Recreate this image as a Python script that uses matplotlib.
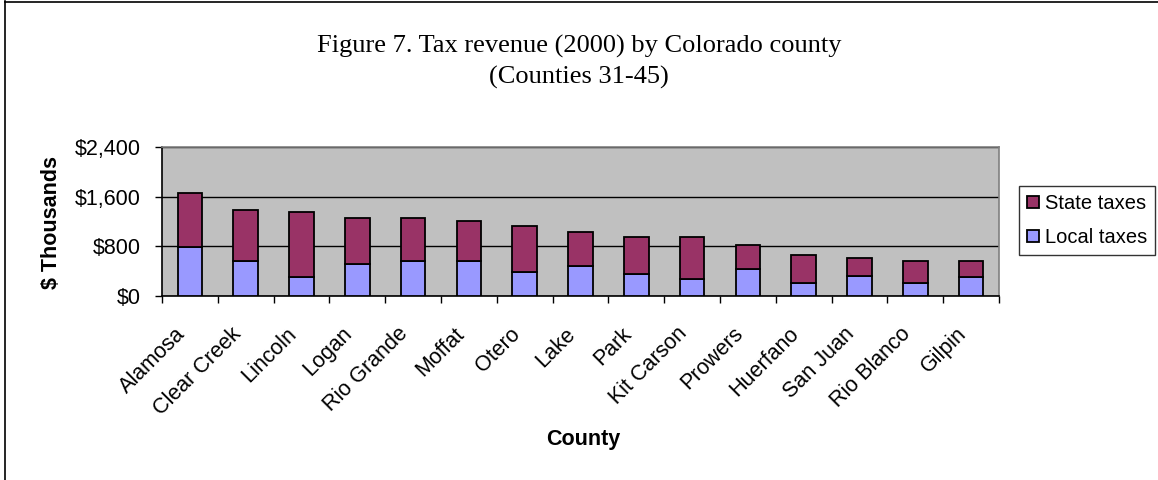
#!/usr/bin/env python3
import matplotlib
matplotlib.use('Agg')
import matplotlib.pyplot as plt
import numpy as np
from matplotlib.ticker import FuncFormatter, FixedLocator
from matplotlib.lines import Line2D
from matplotlib.transforms import ScaledTranslation

### data ($ thousands)
counties = ['Alamosa', 'Clear Creek', 'Lincoln', 'Logan', 'Rio Grande', 'Moffat',
            'Otero', 'Lake', 'Park', 'Kit Carson', 'Prowers', 'Huerfano',
            'San Juan', 'Rio Blanco', 'Gilpin']
local_taxes = [790, 565, 305, 512, 560, 560, 385, 480, 352, 277, 437, 203, 325, 203, 304]
total_taxes = [1660, 1380, 1355, 1253, 1253, 1200, 1125, 1024, 944, 944, 821, 661, 613, 565, 565]
state_taxes = [t - l for t, l in zip(total_taxes, local_taxes)]

def main():
    plt.rcParams['font.family'] = ['Liberation Sans', 'DejaVu Sans']
    fig = plt.figure(figsize=(11.58, 4.8), dpi=100)
    ax = fig.add_axes([0.1399, 0.3833, 0.7228, 0.3105])

    x = np.arange(len(counties))
    ax.bar(x, local_taxes, width=0.44, color='#9999FF', edgecolor='black',
           linewidth=1.3, label='Local taxes', zorder=3)
    ax.bar(x, state_taxes, width=0.44, bottom=local_taxes, color='#993366',
           edgecolor='black', linewidth=1.3, label='State taxes', zorder=3)

    ax.set_facecolor('#C0C0C0')
    ax.set_xlim(-0.5, len(counties) - 0.5)
    ax.set_ylim(0, 2400)
    ax.yaxis.set_major_locator(FixedLocator([0, 800, 1600, 2400]))
    ax.yaxis.set_major_formatter(FuncFormatter(lambda v, p: '${:,.0f}'.format(v)))
    ax.grid(axis='y', color='black', linewidth=1.0, zorder=1)
    ax.tick_params(axis='y', direction='out', length=5, width=1, labelsize=15.5, pad=10.5)

    # labels at category centres, tick marks between categories
    ax.set_xticks(x)
    ax.set_xticklabels(counties, rotation=45, ha='right', va='center',
                       rotation_mode='anchor')
    ax.tick_params(axis='x', which='major', length=0, labelsize=15.5, pad=25)
    shift = ScaledTranslation(-8 / 100, 0, fig.dpi_scale_trans)
    for lab in ax.get_xticklabels():
        lab.set_transform(lab.get_transform() + shift)
    ax.set_xticks(np.arange(-0.5, len(counties)), minor=True)
    ax.tick_params(axis='x', which='minor', direction='out', length=5, width=1)

    for s in ['left', 'bottom']:
        ax.spines[s].set_color('black')
        ax.spines[s].set_linewidth(1.2)
    for s in ['top', 'right']:
        ax.spines[s].set_color('#808080')
        ax.spines[s].set_linewidth(1.2)

    ax.set_ylabel('$ Thousands', fontsize=15.5, fontweight='bold', va='center')
    ax.yaxis.set_label_coords(-0.1326, 0.49)
    ax.set_xlabel('County', fontsize=15.5, fontweight='bold', va='center')
    ax.xaxis.set_label_coords(0.503, -0.966)

    fig.text(0.5, 1 - 46 / 480, 'Figure 7. Tax revenue (2000) by Colorado county',
             ha='center', va='center', fontsize=19, family='Liberation Serif')
    fig.text(0.5, 1 - 77 / 480, '(Counties 31-45)', ha='center', va='center',
             fontsize=19, family='Liberation Serif')

    h, l = ax.get_legend_handles_labels()
    leg = fig.legend(h[::-1], l[::-1], loc='upper left',
                     bbox_to_anchor=(1019 / 1158, 1 - 186 / 480),
                     fontsize=14.5, frameon=True, fancybox=False,
                     handlelength=0.6, handleheight=0.6, handletextpad=0.3,
                     borderpad=0.4, labelspacing=0.75, borderaxespad=0)
    leg.get_frame().set_edgecolor('black')
    leg.get_frame().set_linewidth(1.0)

    # outer chart border
    fig.add_artist(Line2D([5 / 1158, 5 / 1158], [0, 1 - 1 / 480],
                          transform=fig.transFigure, color='black', linewidth=1.2))
    fig.add_artist(Line2D([5 / 1158, 1], [1 - 1.5 / 480, 1 - 1.5 / 480],
                          transform=fig.transFigure, color='black', linewidth=1.2))

    fig.savefig('out.png', dpi=100)

if __name__ == "__main__":
    main()
